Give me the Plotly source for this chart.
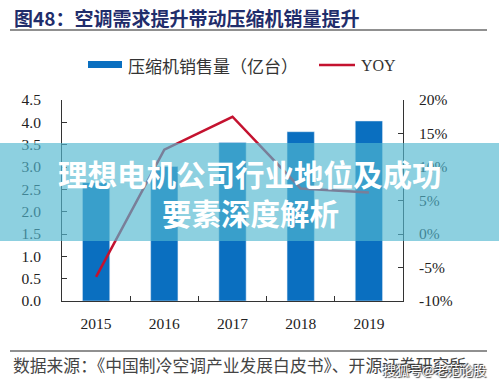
import plotly.graph_objects as go

years = ["2015", "2016", "2017", "2018", "2019"]
sales = [2.65, 3.01, 3.55, 3.79, 4.03]        # 亿台
yoy = [-6.4, 12.6, 17.5, 6.8, 6.2]            # %

left_ticks = [0, 0.5, 1.0, 1.5, 2.0, 2.5, 3.0, 3.5, 4.0, 4.5]
left_labels = ["0.0", "0.5", "1.0", "1.5", "2.0", "2.5", "3.0", "3.5", "4.0", "4.5"]
right_ticks = [-10, -5, 0, 5, 10, 15, 20]
right_labels = ["-10%", "-5%", "0%", "5%", "10%", "15%", "20%"]

title_text = "<b>图48：空调需求提升带动压缩机销量提升</b>"
bar_name = "压缩机销售量（亿台）"
line_name = "YOY"
source_text = "数据来源：《中国制冷空调产业发展白皮书》、开源证券研究所"
banner1 = "理想电机公司行业地位及成功"
banner2 = "要素深度解析"
watermark = "搜狐号@老范论股"

W, H = 499, 385
L, R, T, B = 62, 403, 100, 301

def px(x):
    return (x - L) / (R - L)

def py(y):
    return (B - y) / (B - T)

BAR_COLOR = "#0a6fc0"
LINE_COLOR = "#c4122f"
SERIF = "Liberation Serif"
CJK = "Noto Sans CJK SC"

fig = go.Figure()
fig.add_trace(go.Bar(x=years, y=sales, marker_color=BAR_COLOR, width=0.4,
                     name=bar_name, showlegend=False))
fig.add_trace(go.Scatter(x=years, y=yoy, yaxis="y2", mode="lines",
                         line=dict(color=LINE_COLOR, width=2.5),
                         name=line_name, showlegend=False))

axis_common = dict(showline=True, linecolor="#333", linewidth=1, ticks="inside",
                   ticklen=5, tickcolor="#333", showgrid=False, zeroline=False,
                   tickfont=dict(family=SERIF, size=15.5, color="#222"))

fig.update_layout(
    width=W, height=H,
    margin=dict(l=L, r=W - R, t=T, b=H - B),
    paper_bgcolor="white", plot_bgcolor="white",
    xaxis=dict(type="category", tickson="boundaries", ticklabelstandoff=8,
               **axis_common),
    yaxis=dict(range=[0, 4.5], tickvals=left_ticks, ticktext=left_labels,
               ticklabelstandoff=17, **axis_common),
    yaxis2=dict(range=[-10, 20], tickvals=right_ticks, ticktext=right_labels,
                overlaying="y", side="right", ticklabelstandoff=12, **axis_common),
    showlegend=False,
)

shapes = []
annotations = []

# title + rule
annotations.append(dict(text=title_text, x=px(12), y=py(17), xref="paper", yref="paper",
                        xanchor="left", yanchor="middle", showarrow=False,
                        font=dict(family=CJK, size=19, color="#1f2d6b")))
shapes.append(dict(type="line", xref="paper", yref="paper", x0=px(10), x1=px(487),
                   y0=py(30), y1=py(30), line=dict(color="#222", width=1.2)))

# legend
shapes.append(dict(type="rect", xref="paper", yref="paper", x0=px(88), x1=px(122),
                   y0=py(68), y1=py(61), fillcolor=BAR_COLOR, line=dict(width=0)))
annotations.append(dict(text=bar_name, x=px(126), y=py(65), xref="paper", yref="paper",
                        xanchor="left", yanchor="middle", showarrow=False,
                        font=dict(family=CJK, size=17, color="#333")))
shapes.append(dict(type="line", xref="paper", yref="paper", x0=px(319), x1=px(355),
                   y0=py(65), y1=py(65), line=dict(color=LINE_COLOR, width=2.5)))
annotations.append(dict(text=line_name, x=px(359), y=py(65), xref="paper", yref="paper",
                        xanchor="left", yanchor="middle", showarrow=False,
                        font=dict(family=SERIF, size=16, color="#333")))

# footer
shapes.append(dict(type="line", xref="paper", yref="paper", x0=px(10), x1=px(487),
                   y0=py(351), y1=py(351), line=dict(color="#222", width=1.2)))
annotations.append(dict(text=source_text, x=px(11), y=py(365), xref="paper", yref="paper",
                        xanchor="left", yanchor="middle", showarrow=False,
                        font=dict(family=CJK, size=16.8, color="#444")))
annotations.append(dict(text=watermark, x=px(488), y=py(369), xref="paper", yref="paper",
                        xanchor="right", yanchor="middle", showarrow=False,
                        font=dict(family=CJK, size=13, color="white",
                                  shadow="1px 1px 1px #333, -1px -1px 1px #333")))

# banner overlay
shapes.append(dict(type="rect", xref="paper", yref="paper", x0=px(0), x1=px(W),
                   y0=py(241), y1=py(143), fillcolor="rgba(82,183,208,0.66)",
                   line=dict(width=0), layer="above"))
annotations.append(dict(text="<b>" + banner1 + "</b>", x=px(250), y=py(173),
                        xref="paper", yref="paper", xanchor="center", yanchor="middle",
                        showarrow=False,
                        font=dict(family=CJK, size=29.5, color="white")))
annotations.append(dict(text="<b>" + banner2 + "</b>", x=px(251), y=py(212),
                        xref="paper", yref="paper", xanchor="center", yanchor="middle",
                        showarrow=False,
                        font=dict(family=CJK, size=29.5, color="white")))

fig.update_layout(shapes=shapes, annotations=annotations)
fig.write_html("out.html",
               config={"displayModeBar": False, "staticPlot": True},
               post_script="document.body.style.margin='0';document.body.style.overflow='hidden';")
